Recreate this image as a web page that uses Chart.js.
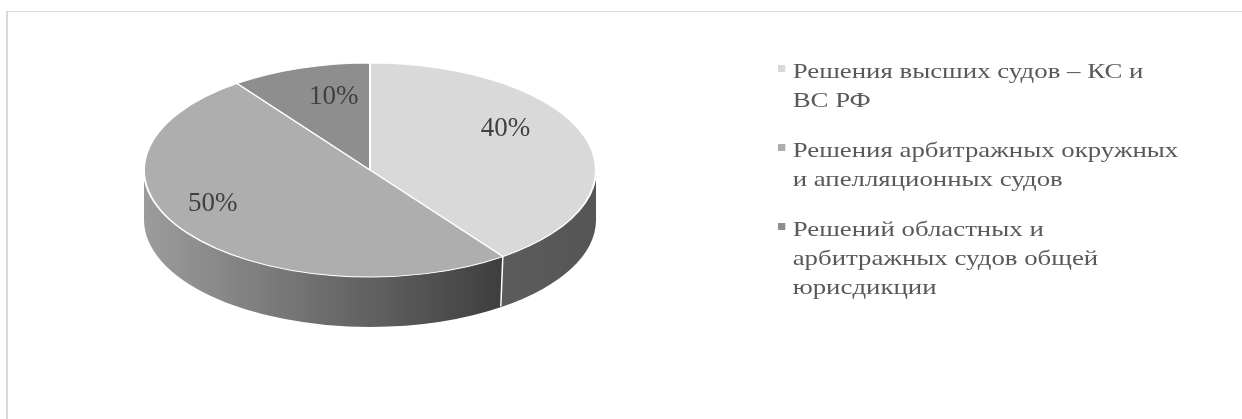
<!DOCTYPE html>
<html>
<head>
<meta charset="utf-8">
<script src="https://cdn.jsdelivr.net/npm/chart.js@4.4.0/dist/chart.umd.min.js"></script>
<style>
  html, body { margin: 0; padding: 0; background: #fff; overflow: hidden; }
  #wrap { position: relative; width: 1242px; height: 419px; overflow: hidden; }
  #frame { position: absolute; left: 6px; top: 11px; width: 1300px; height: 500px;
           border-top: 1px solid #d9d9d9; border-left: 2px solid #d9d9d9; }
  #pieCanvas { position: absolute; left: 0; top: 0; }
  #legend { position: absolute; left: 778px; top: 56px; font-family: "Liberation Serif", "Times New Roman", serif;
            font-size: 22px; line-height: 29px; color: #595959;
            transform: scaleX(1.22); transform-origin: 0 0; }
  .item { position: relative; padding-left: 12px; margin-bottom: 21px; white-space: nowrap; }
  .mark { position: absolute; left: 0; top: 9px; width: 6px; height: 7px; }
</style>
</head>
<body>
<div id="wrap">
  <div id="frame"></div>
  <canvas id="pieCanvas" width="1242" height="419"></canvas>
  <div id="legend"></div>
</div>
<script>
// данные диаграммы
const labels = [
  'Решения высших судов – КС и ВС РФ',
  'Решения арбитражных окружных и апелляционных судов',
  'Решений областных и арбитражных судов общей юрисдикции'
];
const legendLines = [
  ['Решения высших судов – КС и', 'ВС РФ'],
  ['Решения арбитражных окружных', 'и апелляционных судов'],
  ['Решений областных и', 'арбитражных судов общей', 'юрисдикции']
];
const values = [40, 50, 10];

// стили
const topColors = ['#d9d9d9', '#aeaeae', '#8e8e8e'];
const wallColors = [['#5c5c5c', '#555555'], ['#9c9c9c', '#3e3e3e'], ['#6b6b6b', '#505050']];
const labelRadius = [0.63, 0.86, 0.52];

// геометрия "3D" эллипса
const CX = 370, CY = 170, RX = 226, RY = 107, DEPTH = 50;
const K = RY / RX;

function frontRanges(s, e) {
  const out = [];
  for (let n = -1; n <= 1; n++) {
    const a = Math.max(s, n * 2 * Math.PI);
    const b = Math.min(e, n * 2 * Math.PI + Math.PI);
    if (b > a) out.push([a, b]);
  }
  return out;
}

const pie3d = {
  id: 'pie3d',
  beforeDatasetsDraw(chart) {
    const ctx = chart.ctx;
    const meta = chart.getDatasetMeta(0);
    // боковые стенки
    meta.data.forEach((arc, i) => {
      const p = arc.getProps(['startAngle', 'endAngle'], true);
      frontRanges(p.startAngle, p.endAngle).forEach(([a, b]) => {
        const xl = CX + RX * Math.cos(b), xr = CX + RX * Math.cos(a);
        const g = ctx.createLinearGradient(xl, 0, xr, 0);
        g.addColorStop(0, wallColors[i][0]);
        g.addColorStop(1, wallColors[i][1]);
        ctx.beginPath();
        ctx.ellipse(CX, CY, RX, RY, 0, a, b);
        ctx.ellipse(CX, CY + DEPTH, RX, RY, 0, b, a, true);
        ctx.closePath();
        ctx.fillStyle = g;
        ctx.fill();
      });
    });
    // белые разделители на стенке
    meta.data.forEach((arc) => {
      let a = arc.getProps(['startAngle'], true).startAngle;
      a = ((a % (2 * Math.PI)) + 2 * Math.PI) % (2 * Math.PI);
      if (a > 0.01 && a < Math.PI - 0.01) {
        const x = CX + RX * Math.cos(a), y = CY + RY * Math.sin(a);
        ctx.beginPath();
        ctx.moveTo(x, y);
        ctx.lineTo(x - 2, y + DEPTH);
        ctx.strokeStyle = '#ffffff';
        ctx.lineWidth = 1.5;
        ctx.stroke();
      }
    });
    // сплющиваем круг в эллипс
    const c = meta.data[0];
    ctx.save();
    ctx.translate(CX, CY);
    ctx.scale(1, K);
    ctx.translate(-c.x, -c.y);
  },
  afterDatasetsDraw(chart) {
    const ctx = chart.ctx;
    ctx.restore();
    const meta = chart.getDatasetMeta(0);
    ctx.save();
    ctx.font = '27px "Liberation Serif", "Times New Roman", serif';
    ctx.fillStyle = '#404040';
    ctx.textAlign = 'center';
    ctx.textBaseline = 'middle';
    meta.data.forEach((arc, i) => {
      const p = arc.getProps(['startAngle', 'endAngle'], true);
      const mid = (p.startAngle + p.endAngle) / 2;
      const x = CX + RX * labelRadius[i] * Math.cos(mid);
      const y = CY - 20 + RY * labelRadius[i] * Math.sin(mid);
      ctx.fillText(values[i] + '%', x, y);
    });
    ctx.restore();
  }
};

new Chart(document.getElementById('pieCanvas'), {
  type: 'pie',
  data: {
    labels: labels,
    datasets: [{
      data: values,
      backgroundColor: topColors,
      borderColor: '#ffffff',
      borderWidth: 2,
      radius: RX,
      clip: false
    }]
  },
  options: {
    responsive: false,
    animation: false,
    devicePixelRatio: 1,
    events: [],
    plugins: { legend: { display: false }, tooltip: { enabled: false } }
  },
  plugins: [pie3d]
});

// легенда
const legendEl = document.getElementById('legend');
legendLines.forEach((lines, i) => {
  const item = document.createElement('div');
  item.className = 'item';
  const mark = document.createElement('span');
  mark.className = 'mark';
  mark.style.background = topColors[i];
  item.appendChild(mark);
  lines.forEach((line, j) => {
    if (j > 0) item.appendChild(document.createElement('br'));
    item.appendChild(document.createTextNode(line));
  });
  legendEl.appendChild(item);
});
</script>
</body>
</html>
